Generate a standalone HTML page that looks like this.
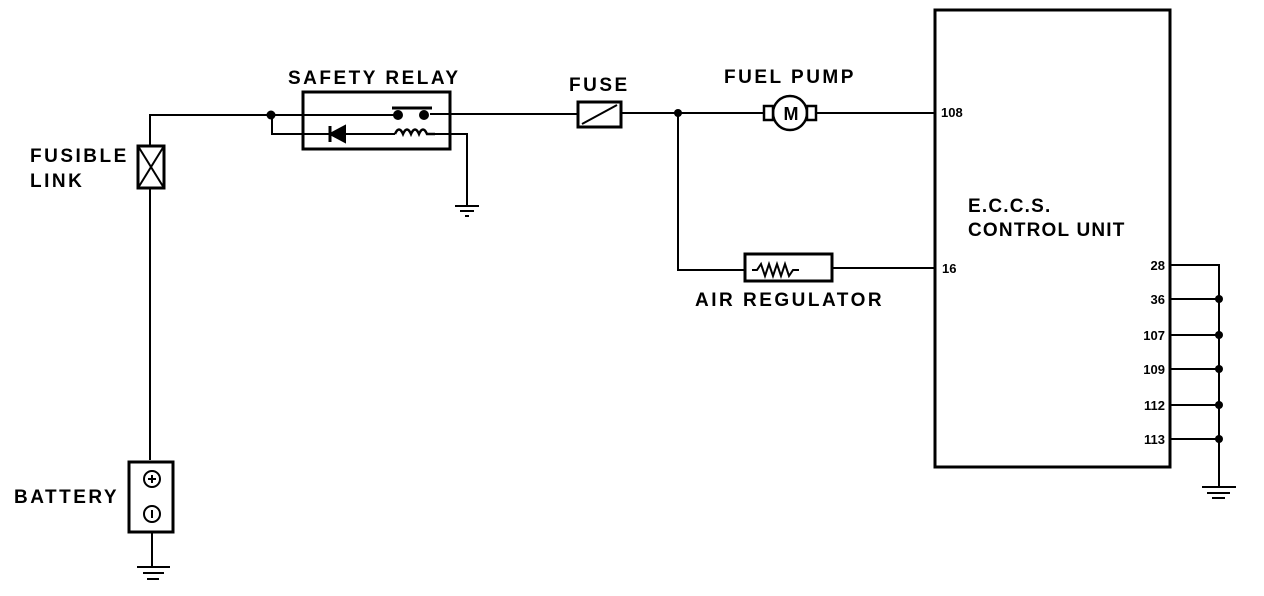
<!DOCTYPE html>
<html><head><style>
body{margin:0;background:#fff}
svg{display:block}
text{font-family:"Liberation Sans",sans-serif;font-weight:bold;fill:#000}
</style></head><body>
<svg width="1264" height="596" viewBox="0 0 1264 596" xmlns="http://www.w3.org/2000/svg">
<g stroke="#000" stroke-width="2" fill="none">
<polyline points="150,460 150,115 305,115"/>
<rect x="138" y="146" width="26" height="42" stroke-width="3" fill="#fff"/>
<line x1="138" y1="146" x2="164" y2="188"/><line x1="164" y1="146" x2="138" y2="188"/>
<rect x="303" y="92" width="147" height="57" stroke-width="3"/>
<line x1="270" y1="115" x2="395" y2="115"/>
<polyline points="272,115 272,134 330,134"/>
<line x1="345" y1="134" x2="395" y2="134"/>
<polygon points="330,134 345,126 345,142" fill="#000"/>
<line x1="330" y1="126" x2="330" y2="142" stroke-width="3"/>
<line x1="392" y1="108" x2="432" y2="108" stroke-width="3"/>
<path d="M395,134 q4,-9 8,0 q4,-9 8,0 q4,-9 8,0 q4,-9 8,0 l8,0" stroke-width="2.5"/>
<polyline points="431,134 467,134 467,205"/>
<line x1="455" y1="206" x2="479" y2="206"/><line x1="460" y1="211" x2="474" y2="211"/><line x1="465" y1="216" x2="469" y2="216"/>
<line x1="430" y1="114" x2="578" y2="114"/>
<rect x="578" y="102" width="43" height="25" stroke-width="3" fill="#fff"/>
<line x1="582" y1="124" x2="617" y2="105"/>
<line x1="621" y1="113" x2="935" y2="113"/>
<circle cx="790" cy="113" r="17" fill="#fff" stroke-width="2.5"/>
<rect x="764" y="106" width="9" height="14" fill="#fff" stroke-width="2.5"/>
<rect x="807" y="106" width="9" height="14" fill="#fff" stroke-width="2.5"/>
<polyline points="678,113 678,270 745,270"/>
<rect x="745" y="254" width="87" height="27" stroke-width="3" fill="#fff"/>
<path d="M752,270 l5,0 l4,-6 l4,12 l4,-12 l4,12 l4,-12 l4,12 l4,-12 l4,12 l4,-6 l6,0"/>
<line x1="832" y1="268" x2="935" y2="268"/>
<rect x="935" y="10" width="235" height="457" stroke-width="3"/>
<polyline points="1170,265 1219,265 1219,487"/>
<line x1="1170" y1="299" x2="1219" y2="299"/>
<line x1="1170" y1="335" x2="1219" y2="335"/>
<line x1="1170" y1="369" x2="1219" y2="369"/>
<line x1="1170" y1="405" x2="1219" y2="405"/>
<line x1="1170" y1="439" x2="1219" y2="439"/>
<line x1="1202" y1="487" x2="1236" y2="487"/><line x1="1207" y1="493" x2="1230" y2="493"/><line x1="1212" y1="498" x2="1225" y2="498"/>
<rect x="129" y="462" width="44" height="70" stroke-width="3" fill="#fff"/>
<circle cx="152" cy="479" r="8"/><circle cx="152" cy="514" r="8"/>
<line x1="148" y1="479" x2="156" y2="479"/><line x1="152" y1="475" x2="152" y2="483"/>
<line x1="152" y1="510" x2="152" y2="518"/>
<line x1="152" y1="532" x2="152" y2="566"/>
<line x1="137" y1="567" x2="170" y2="567"/><line x1="143" y1="573" x2="164" y2="573"/><line x1="147" y1="579" x2="159" y2="579"/>
</g>
<g fill="#000">
<circle cx="271" cy="115" r="4.5"/><circle cx="678" cy="113" r="4"/>
<circle cx="398" cy="115" r="5"/><circle cx="424" cy="115" r="5"/>
<circle cx="1219" cy="299" r="4"/><circle cx="1219" cy="335" r="4"/><circle cx="1219" cy="369" r="4"/><circle cx="1219" cy="405" r="4"/><circle cx="1219" cy="439" r="4"/>
</g>
<text x="791" y="120" font-size="18" text-anchor="middle">M</text>
<g font-size="19" letter-spacing="2.5">
<text x="288" y="84">SAFETY RELAY</text>
<text x="569" y="91">FUSE</text>
<text x="724" y="83">FUEL PUMP</text>
<text x="695" y="306">AIR REGULATOR</text>
<text x="30" y="162">FUSIBLE</text>
<text x="30" y="187">LINK</text>
<text x="14" y="503">BATTERY</text>
</g>
<g font-size="19" letter-spacing="1.2">
<text x="968" y="212">E.C.C.S.</text>
<text x="968" y="236">CONTROL UNIT</text>
</g>
<text x="941" y="117" font-size="13">108</text>
<text x="942" y="273" font-size="13">16</text>
<g font-size="13" text-anchor="end">
<text x="1165" y="270">28</text><text x="1165" y="304">36</text><text x="1165" y="340">107</text>
<text x="1165" y="374">109</text><text x="1165" y="410">112</text><text x="1165" y="444">113</text>
</g>
</svg>
</body></html>
